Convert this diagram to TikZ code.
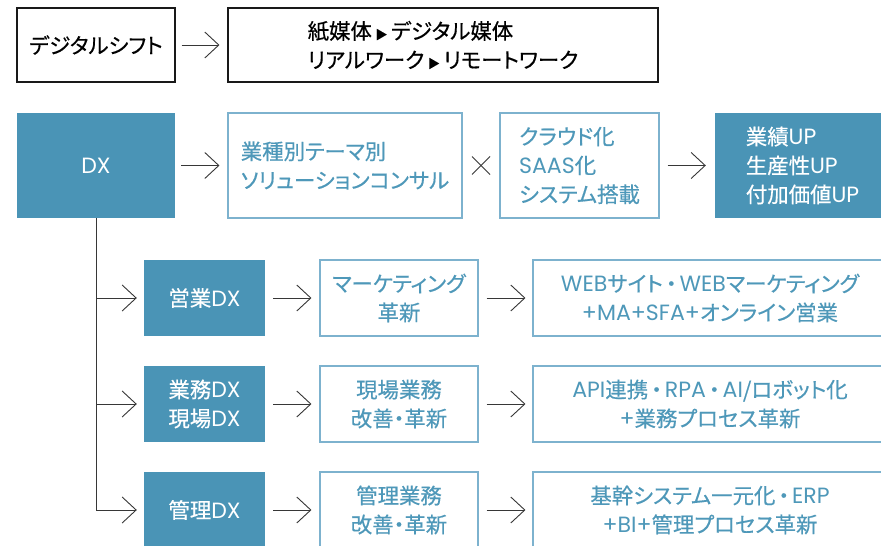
\documentclass[tikz,border=0pt]{standalone}
\usepackage{fontspec}
\setmainfont[RawFeature=+palt, FakeBold=0.4]{Noto Sans CJK JP}
\newfontfamily\latf[Scale=1.03]{Poppins}
\newcommand{\ltn}[1]{{\latf #1}}
\newcommand{\dt}{\hspace{3bp}・\hspace{3bp}}
\usetikzlibrary{arrows.meta}
\definecolor{dxblue}{RGB}{74,148,182}
\definecolor{dxtext}{RGB}{78,152,185}
\definecolor{dxline}{RGB}{125,178,206}
\definecolor{arrgray}{RGB}{55,55,55}
\tikzset{
  base/.style={rectangle, inner sep=0pt, font=\fontsize{21.5}{29}\selectfont},
  outbox/.style={base, draw=black!90, line width=1.1bp, text=black},
  fillbox/.style={base, fill=dxblue, text=white},
  lightbox/.style={base, draw=dxline, line width=1.1bp, text=dxtext},
  arr/.style={draw=arrgray, line width=0.9bp, -{Straight Barb[length=14bp,width=26bp]}},
  link/.style={draw=arrgray, line width=0.9bp}
}
\newcommand{\tri}{{\fontsize{12}{12}\selectfont ▶}}
\begin{document}
\begin{tikzpicture}[x=1bp,y=-1bp]
\useasboundingbox (0,0) rectangle (881,546);
\clip (0,0) rectangle (881,546);
\fill[white] (0,0) rectangle (881,546);

% top row
\node[outbox, minimum width=158bp, minimum height=74bp] (shift) at (96,45) {デジタルシフト};
\node[outbox, minimum width=430bp, minimum height=74bp, align=left] (media) at (443,45)
  {紙媒体\,\tri\,デジタル媒体\\リアルワーク\,\tri\,リモートワーク};

% second row
\node[fillbox, minimum width=158bp, minimum height=105bp] (dx) at (96,165.5) {\ltn{DX}};
\node[lightbox, minimum width=234bp, minimum height=105bp, align=left] (theme) at (345,165.5)
  {業種別テーマ別\\ソリューションコンサル};
\node[lightbox, minimum width=159bp, minimum height=105bp, align=left] (cloud) at (579.5,165.5)
  {クラウド化\\\ltn{SAAS}化\\システム搭載};
\node[fillbox, minimum width=175bp, minimum height=105bp, align=left] (up) at (802.5,165.5)
  {業績\ltn{UP}\\生産性\ltn{UP}\\付加価値\ltn{UP}};
\coordinate (cross) at (481,165.5);

% rows
\node[fillbox, minimum width=121bp, minimum height=76bp] (g1) at (204.5,298) {営業\ltn{DX}};
\node[fillbox, minimum width=121bp, minimum height=76bp, align=center] (g2) at (204.5,404) {業務\ltn{DX}\\現場\ltn{DX}};
\node[fillbox, minimum width=121bp, minimum height=76bp] (g3) at (204.5,510) {管理\ltn{DX}};

\node[lightbox, minimum width=158bp, minimum height=76bp, align=center] (m1) at (399,298) {マーケティング\\革新};
\node[lightbox, minimum width=158bp, minimum height=76bp, align=center] (m2) at (399,404) {現場業務\\改善・革新};
\node[lightbox, minimum width=158bp, minimum height=76bp, align=center] (m3) at (399,510) {管理業務\\改善・革新};

\node[lightbox, minimum width=354bp, minimum height=76bp, align=center] (r1) at (710,298) {\ltn{WEB}サイト\dt\ltn{WEB}マーケティング\\\ltn{+MA+SFA+}オンライン営業};
\node[lightbox, minimum width=354bp, minimum height=76bp, align=center] (r2) at (710,404) {\ltn{API}連携\dt\ltn{RPA}\dt\ltn{AI}/ロボット化\\\ltn{+}業務プロセス革新};
\node[lightbox, minimum width=354bp, minimum height=76bp, align=center] (r3) at (710,510) {基幹システム一元化\dt\ltn{ERP}\\\ltn{+BI+}管理プロセス革新};

% connectors
\draw[arr, shorten <=6bp, shorten >=8bp] (shift) -- (media);
\draw[arr, shorten <=6bp, shorten >=8bp] (dx) -- (theme);
\draw[arr, shorten <=8bp, shorten >=9bp] (cloud) -- (up);
\draw[link] ([shift={(-9,-9)}]cross) -- ([shift={(9,9)}]cross);
\draw[link] ([shift={(-9,9)}]cross) -- ([shift={(9,-9)}]cross);

\draw[arr, shorten >=7bp] (dx.south) |- (g3.west);
\draw[arr, shorten >=7bp] (dx.south |- g1.west) -- (g1.west);
\draw[arr, shorten >=7bp] (dx.south |- g2.west) -- (g2.west);

\foreach \i in {1,2,3} {
  \draw[arr, shorten <=8bp, shorten >=8bp] (g\i) -- (m\i);
  \draw[arr, shorten <=8bp, shorten >=7bp] (m\i) -- (r\i);
}
\end{tikzpicture}
\end{document}
